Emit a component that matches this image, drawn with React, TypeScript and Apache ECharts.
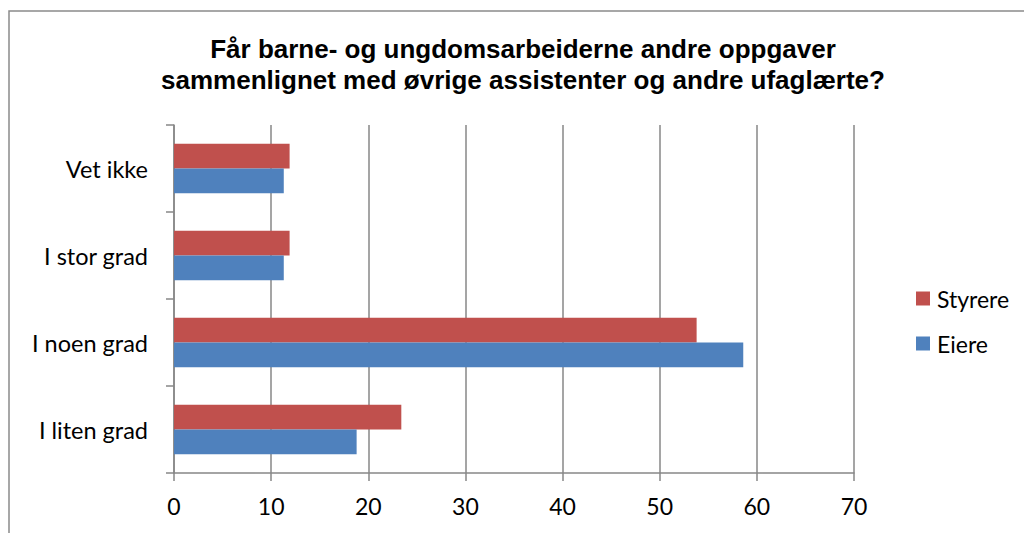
import React, { useEffect, useRef } from "react";
import * as echarts from "echarts";

const categories = ["I liten grad", "I noen grad", "I stor grad", "Vet ikke"];
const eiere = [18.8, 58.6, 11.3, 11.3];
const styrere = [23.4, 53.8, 11.9, 11.9];
const xTicks = { min: 0, max: 70, interval: 10 };
const titleText =
  "Får barne- og ungdomsarbeiderne andre oppgaver\nsammenlignet med øvrige assistenter og andre ufaglærte?";

export default function App() {
  const ref = useRef<HTMLDivElement>(null);
  useEffect(() => {
    if (!ref.current) return;
    const chart = echarts.init(ref.current, null, { renderer: "svg" });
    const gray = "#878787";
    const labelFont = "Lato, 'Open Sans', sans-serif";
    chart.setOption({
      animation: false,
      backgroundColor: "#ffffff",
      title: {
        text: titleText,
        left: 518,
        top: 28,
        textAlign: "center",
        textStyle: {
          fontFamily: "'Liberation Sans', Arial, sans-serif",
          fontWeight: "bold",
          fontSize: 26,
          lineHeight: 31,
          color: "#000",
        },
      },
      graphic: [
        {
          type: "rect",
          shape: { x: 9, y: 11, width: 1040, height: 560 },
          style: { fill: "none", stroke: "#8a8a8a", lineWidth: 1.5 },
          silent: true,
        },
      ],
      legend: {
        orient: "vertical",
        left: 911,
        top: 282,
        itemWidth: 14,
        itemHeight: 14,
        itemGap: 22,
        data: ["Styrere", "Eiere"],
        textStyle: { fontFamily: labelFont, fontSize: 23, color: "#000", padding: [0, 0, 0, 2] },
        icon: "rect",
      },
      grid: { left: 174, right: 170, top: 125, bottom: 60 },
      xAxis: {
        type: "value",
        min: xTicks.min,
        max: xTicks.max,
        interval: xTicks.interval,
        axisLine: { show: true, lineStyle: { color: gray, width: 1.5 } },
        axisTick: { show: true, length: 8, lineStyle: { color: gray, width: 1.5 } },
        splitLine: { show: true, lineStyle: { color: gray, width: 1.5 } },
        axisLabel: { fontFamily: labelFont, fontSize: 23, color: "#000", margin: 21 },
      },
      yAxis: {
        type: "category",
        data: categories,
        axisLine: { show: true, lineStyle: { color: gray, width: 1.5 } },
        axisTick: { show: true, length: 8, lineStyle: { color: gray, width: 1.5 } },
        axisLabel: { fontFamily: labelFont, fontSize: 23.5, color: "#000", margin: 26 },
        splitLine: { show: false },
      },
      series: [
        {
          name: "Styrere",
          type: "bar",
          data: styrere,
          itemStyle: { color: "#C0504D" },
          barGap: "0%",
          barCategoryGap: "43%",
        },
        {
          name: "Eiere",
          type: "bar",
          data: eiere,
          itemStyle: { color: "#4F81BD" },
          barGap: "0%",
          barCategoryGap: "43%",
        },
      ],
    });
    return () => chart.dispose();
  }, []);
  return (
    <div
      ref={ref}
      style={{ position: "fixed", left: 0, top: 0, width: 1024, height: 533 }}
    />
  );
}
